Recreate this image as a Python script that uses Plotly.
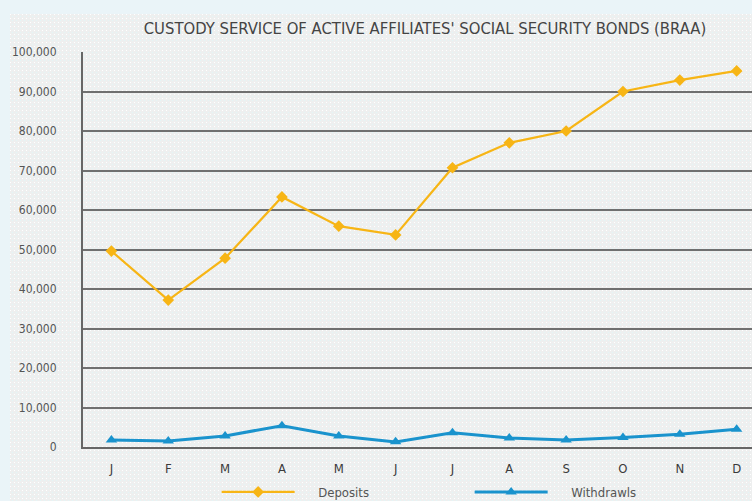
import base64
import plotly.graph_objects as go

months = ["J", "F", "M", "A", "M", "J", "J", "A", "S", "O", "N", "D"]
deposits = [49600, 37200, 47800, 63300, 55900, 53700, 70700, 77000, 80000, 90000, 92900, 95200]
withdrawls = [1800, 1500, 2800, 5400, 2800, 1300, 3600, 2300, 1800, 2400, 3200, 4500]
y_ticks = [0, 10000, 20000, 30000, 40000, 50000, 60000, 70000, 80000, 90000, 100000]
series_names = ["Deposits", "Withdrawls"]

x = list(range(len(months)))
FONT = "DejaVu Sans Condensed, Liberation Sans Narrow, sans-serif"
GAP = "\u00a0" * 5

fig = go.Figure()
fig.add_trace(go.Scatter(
    x=x, y=deposits, name=GAP + series_names[0], mode="lines+markers",
    line=dict(color="#f7b515", width=2.2),
    marker=dict(symbol="diamond", size=9, color="#f7b515"),
))
fig.add_trace(go.Scatter(
    x=x, y=withdrawls, name=GAP + series_names[1], mode="lines+markers",
    line=dict(color="#1a93cd", width=3),
    marker=dict(symbol="triangle-up", size=10, color="#1a93cd"),
))

W, H = 752, 501
L, R, T, B = 83, 0, 52, 54
pw, ph = W - L - R, H - T - B


def px_x(p):
    return (p - L) / pw


def px_y(p):
    return (H - B - p) / ph


# dotted paper texture of the panel
bw, bh = W - 10, H - 14
svg = (
    f'<svg xmlns="http://www.w3.org/2000/svg" width="{bw}" height="{bh}">'
    '<defs><pattern id="p" width="4" height="4" patternUnits="userSpaceOnUse">'
    '<rect width="4" height="4" fill="#eeefef"/>'
    '<rect x="0" y="0" width="1" height="1" fill="#ffffff"/>'
    '<rect x="2" y="2" width="1" height="1" fill="#e2f6f7"/>'
    '</pattern></defs>'
    f'<rect width="{bw}" height="{bh}" fill="url(#p)"/></svg>'
)
uri = "data:image/svg+xml;base64," + base64.b64encode(svg.encode()).decode()
fig.add_layout_image(
    source=uri, xref="paper", yref="paper",
    x=px_x(10), y=px_y(14), sizex=bw / pw, sizey=bh / ph,
    xanchor="left", yanchor="top", sizing="stretch", layer="below",
)

fig.update_layout(
    width=W, height=H,
    margin=dict(l=L, r=R, t=T, b=B, autoexpand=False),
    paper_bgcolor="#eaf4f8",
    plot_bgcolor="rgba(0,0,0,0)",
    font=dict(family=FONT, color="#555555", size=12),
    title=dict(
        text="CUSTODY SERVICE OF ACTIVE AFFILIATES' SOCIAL SECURITY BONDS (BRAA)",
        xref="container", x=425 / W, xanchor="center",
        yref="container", y=1 - 28 / H, yanchor="middle",
        font=dict(family=FONT, size=16.5, color="#444444"),
    ),
    xaxis=dict(
        tickmode="array", tickvals=x, ticktext=months,
        range=[-0.5, 11.27], showgrid=False, zeroline=False,
        showline=True, linecolor="#666666", linewidth=2,
        ticks="", ticklabelstandoff=8, automargin=False,
        tickfont=dict(family=FONT, size=13, color="#3a3a3a"),
    ),
    yaxis=dict(
        range=[0, 100000], tickvals=y_ticks, tickformat=",",
        showgrid=True, gridcolor="#707070", gridwidth=2,
        zeroline=False, showline=True, linecolor="#666666", linewidth=2,
        ticks="", ticklabelstandoff=22, automargin=False,
        tickfont=dict(family=FONT, size=12, color="#555555"),
    ),
    legend=dict(
        orientation="h", x=px_x(222) - 0.008, xanchor="left",
        y=px_y(492), yanchor="middle",
        font=dict(family=FONT, size=13, color="#555555"),
        bgcolor="rgba(0,0,0,0)", itemwidth=73,
        entrywidthmode="pixels", entrywidth=165,
    ),
    showlegend=True,
)

fig.write_html(
    "out.html",
    config={"displayModeBar": False},
    post_script="document.body.style.margin='0';document.body.style.background='#eaf4f8';",
)
